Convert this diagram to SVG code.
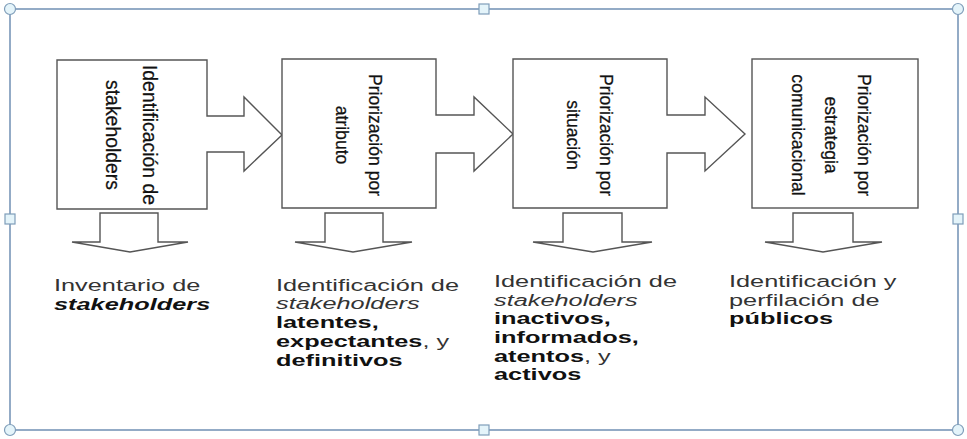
<svg xmlns="http://www.w3.org/2000/svg" width="967" height="439" viewBox="0 0 967 439">
<defs>
<style>
.frame{fill:none;stroke:#5a7fa8;stroke-width:1.3}
.hc{fill:#e4f4fa;stroke:#7f9db9;stroke-width:1.2}
.shape{fill:#fff;stroke:#555;stroke-width:1.4;stroke-linejoin:miter}
.vt{font-family:"Liberation Sans",Arial,sans-serif;fill:#111;text-anchor:middle;stroke:#111;stroke-width:0.25}
.bt{font-family:"Liberation Sans",Arial,sans-serif;font-size:17px;fill:#333}
.b{font-weight:bold;fill:#111}
.i{font-style:italic}
</style>
</defs>
<rect width="967" height="439" fill="#fff"/>
<g id="frame">
<rect class="frame" x="10" y="9" width="948" height="421"/>
<circle class="hc" cx="10" cy="9" r="5.5"/>
<circle class="hc" cx="958" cy="9" r="5.5"/>
<circle class="hc" cx="10" cy="430" r="5.5"/>
<circle class="hc" cx="958" cy="430" r="5.5"/>
<rect class="hc" x="479" y="4" width="10" height="10"/>
<rect class="hc" x="479" y="425" width="10" height="10"/>
<rect class="hc" x="5" y="214" width="10" height="10"/>
<rect class="hc" x="953" y="214" width="10" height="10"/>
</g>
<g id="connectors">
<path class="shape" d="M100,213 H158 V242 H188 L130,252 L72,242 H100 Z"/>
<path class="shape" d="M325,213 H383 V242 H412 L353,252 L295,242 H325 Z"/>
<path class="shape" d="M563,213 H622 V242 H652 L593,252 L533,242 H563 Z"/>
<path class="shape" d="M793,213 H853 V242 H882 L823,252 L765,242 H793 Z"/>
</g>
<g id="step1">
<path class="shape" d="M57,60 H207 V116 H244 V97 L282,135 L244,171 V152 H207 V209 H57 Z"/>
<text class="vt" font-size="19.4" transform="translate(142.5,135) rotate(90)">Identificación de</text>
<text class="vt" font-size="19.4" transform="translate(105.5,135) rotate(90)">stakeholders</text>
</g>
<g id="step2">
<path class="shape" d="M282,59 H436 V115 H474 V97 L513,134 L474,171 V153 H436 V208 H282 Z"/>
<text class="vt" font-size="17.6" transform="translate(369,135) rotate(90)">Priorización por</text>
<text class="vt" font-size="17.6" transform="translate(336,135) rotate(90)">atributo</text>
</g>
<g id="step3">
<path class="shape" d="M513,59 H667 V115 H705 V97 L745,134 L705,171 V153 H667 V208 H513 Z"/>
<text class="vt" font-size="17.6" transform="translate(600,135) rotate(90)">Priorización por</text>
<text class="vt" font-size="17.6" transform="translate(567,135) rotate(90)">situación</text>
</g>
<g id="step4">
<rect class="shape" x="752" y="59" width="166" height="149"/>
<text class="vt" font-size="17.6" transform="translate(858,135) rotate(90)">Priorización por</text>
<text class="vt" font-size="17.6" transform="translate(825,135) rotate(90)">estrategia</text>
<text class="vt" font-size="17.6" transform="translate(792,135) rotate(90)">comunicacional</text>
</g>
<g id="result1" transform="translate(54,0) scale(1.49,1)">
<text class="bt" x="0" y="291">Inventario de</text>
<text class="bt b i" x="0" y="310">stakeholders</text>
</g>
<g id="result2" transform="translate(276,0) scale(1.49,1)">
<text class="bt" x="0" y="291">Identificación de</text>
<text class="bt i" x="0" y="309.5">stakeholders</text>
<text class="bt b" x="0" y="328.2">latentes,</text>
<text class="bt" x="0" y="346.9"><tspan class="b">expectantes</tspan>, y</text>
<text class="bt b" x="0" y="365.6">definitivos</text>
</g>
<g id="result3" transform="translate(494,0) scale(1.49,1)">
<text class="bt" x="0" y="287">Identificación de</text>
<text class="bt i" x="0" y="305.7">stakeholders</text>
<text class="bt b" x="0" y="324.4">inactivos,</text>
<text class="bt b" x="0" y="343.1">informados,</text>
<text class="bt" x="0" y="361.8"><tspan class="b">atentos</tspan>, y</text>
<text class="bt b" x="0" y="380.5">activos</text>
</g>
<g id="result4" transform="translate(729,0) scale(1.49,1)">
<text class="bt" x="0" y="287">Identificación y</text>
<text class="bt" x="0" y="305.7">perfilación de</text>
<text class="bt b" x="0" y="324.4">públicos</text>
</g>
</svg>
